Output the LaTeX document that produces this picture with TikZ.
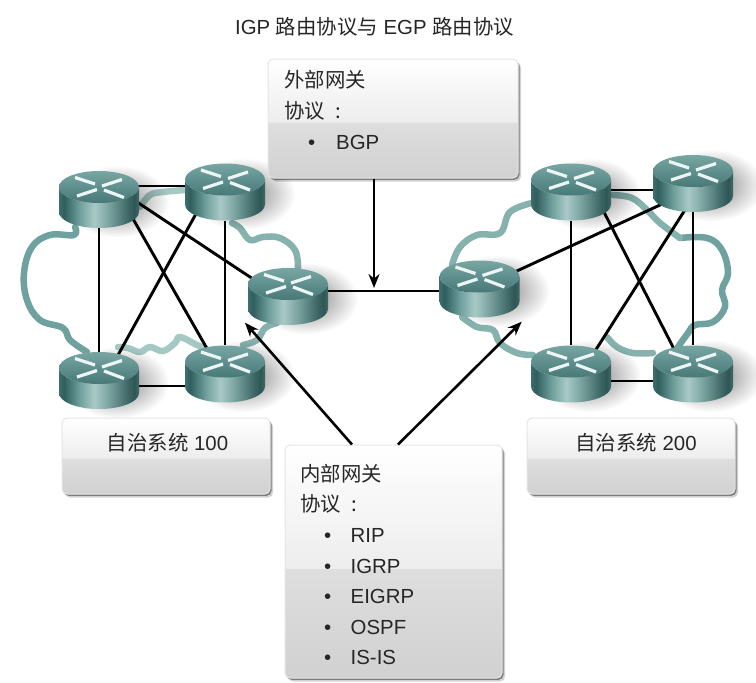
\documentclass[tikz,border=0pt]{standalone}
\usepackage{fontspec}
\setmainfont{Liberation Sans}
\newfontfamily\cjk{Noto Sans CJK SC}
\usetikzlibrary{arrows.meta,backgrounds,fadings,shadows}

\definecolor{cloudA}{HTML}{6FA29E}
\definecolor{cloudB}{HTML}{A4C8C4}
\definecolor{cloudC}{HTML}{86B2AE}
\definecolor{sideA}{HTML}{3F6F6D}
\definecolor{sideB}{HTML}{2F5E5C}
\definecolor{sideC}{HTML}{6FA09C}
\definecolor{sideD}{HTML}{A8C9C6}
\definecolor{sideE}{HTML}{8FB5B2}
\definecolor{sideF}{HTML}{3E6967}
\definecolor{sideG}{HTML}{2F5655}
\definecolor{faceA}{HTML}{78A6A3}
\definecolor{faceB}{HTML}{477977}

\pgfdeclareverticalshading{glass}{100bp}{color(0bp)=(white!82!black); color(25bp)=(white!82!black);
	color(48.5bp)=(white!87!black); color(48.6bp)=(white!93!black); color(75bp)=(white); color(100bp)=(white)}
\pgfdeclarehorizontalshading{routerside}{100bp}{color(0bp)=(sideA); color(25bp)=(sideA);
	color(28bp)=(sideB); color(38bp)=(sideC); color(47bp)=(sideD); color(52bp)=(sideE);
	color(68bp)=(sideF); color(72bp)=(sideG); color(75bp)=(sideF); color(100bp)=(sideF)}
\tikzfading[name=fuzzy,inner color=transparent!0,outer color=transparent!100]

\newcommand{\zh}[1]{{\cjk #1}}
\newcommand{\bul}[2]{\hspace*{24pt}\makebox[#1][l]{•}#2}

% one router: the named node plus its drawing
\newcommand{\router}[3]{
	\node[router node] (#1) at (#2,#3) {};
	\begin{scope}[shift={(#1.center)},y=1pt]
		\fill[black,opacity=.5,path fading=fuzzy] (18,-2) ellipse (52 and 36);
		\path[shading=routerside] (-40,12.5) -- (-40,-12.5) arc (180:360:40 and 16) -- (40,12.5) arc (0:-180:40 and 16) -- cycle;
		\path[top color=faceA,bottom color=faceB] (0,12.5) ellipse (40 and 16);
		\draw[x stroke] (-24,22) -- (-4,15.5);
		\draw[x stroke] (23,20) -- (3,13.5);
		\draw[x stroke] (-22,3.5) -- (-2,10);
		\draw[x stroke] (25,2) -- (5,9.5);
	\end{scope}
}

\tikzset{
	router node/.style={minimum width=80pt,minimum height=57pt,inner sep=0pt},
	x stroke/.style={white!92!teal,line width=3.2pt},
	link/.style={black,line width=2.9pt},
	pointer/.style={black,line width=2.6pt,-{Stealth[length=14pt,width=11pt]}},
	cloud line/.style={line width=6.5pt,line cap=round,line join=round},
	info box/.style={rounded corners=5pt,draw=white!90!black,line width=1pt,shading=glass,inner sep=0pt,
		general shadow={fill=black,opacity=.18,shadow xshift=3pt,shadow yshift=-3.5pt},
		general shadow={fill=black,opacity=.4,shadow xshift=1.5pt,shadow yshift=-1.8pt}},
	label text/.style={font=\fontsize{20.4}{24}\selectfont,text=black!85},
	list text/.style={label text,anchor=west,align=left,inner sep=0pt}
}

\begin{document}
\begin{tikzpicture}[x=1pt,y=-1pt]
	\useasboundingbox (0,0) rectangle (756,683);

	\node[label text] (title) at (374.5,27) {IGP \zh{路由协议与} EGP \zh{路由协议}};

	\router{tl}{99}{199.5}
	\router{tm}{225}{192}
	\router{cl}{288}{296.5}
	\router{bl}{99}{380.5}
	\router{bm}{225}{374}
	\router{cr}{479.5}{289}
	\router{rtl}{571}{192}
	\router{rtr}{693}{183.5}
	\router{rbl}{571}{374}
	\router{rbr}{693}{374}

	\begin{pgfonlayer}{background}
		% clouds
		\draw[cloud line,cloudA] plot[smooth,tension=.65] coordinates {(75,227) (74,235) (50,235) (32,247) (24,273) (27,300) (40,320) (63,328) (70,340) (87,352)};
		\draw[cloud line,cloudB] plot[smooth,tension=.65] coordinates {(118,347) (128,348) (140,352) (150,347) (163,351) (175,343) (180,337) (197,345) (205,348)};
		\draw[cloud line,cloudC] plot[smooth,tension=.65] coordinates {(243,345) (257,340) (265,328) (277,323)};
		\draw[cloud line,cloudC] plot[smooth,tension=.65] coordinates {(298,268) (295,250) (280,238) (263,237) (250,240) (240,228) (232,223)};
		\draw[cloud line,cloudB] plot[smooth,tension=.65] coordinates {(185,190) (163,192) (150,195) (140,207)};
		\draw[cloud line,cloudC] plot[smooth,tension=.65] coordinates {(532,203) (510,212) (500,233) (477,235) (460,247) (452,265)};
		\draw[cloud line,cloudC] plot[smooth,tension=.65] coordinates {(462,317) (477,327) (493,330) (500,343) (517,353) (533,355)};
		\draw[cloud line,cloudC] plot[smooth,tension=.65] coordinates {(607,337) (617,347) (633,353) (653,353)};
		\draw[cloud line,cloudA] plot[smooth,tension=.65] coordinates {(678,347) (688,333) (695,325) (713,322) (725,307) (722,290) (728,273) (722,250) (707,238) (680,238)};
		\draw[cloud line,cloudC] plot[smooth,tension=.65] coordinates {(680,238) (660,223) (647,210) (632,198) (613,195)};

		% links
		\draw[link] ([yshift=13.5pt]tl.center) -- ([yshift=6pt]tm.center);
		\draw[link] (tl) -- (bl);
		\draw[link] (tm) -- (bm);
		\draw[link] ([yshift=-5.5pt]bl.center) -- ([yshift=-12pt]bm.center);
		\draw[link] ([xshift=23pt]tl.center) -- ([xshift=-3.5pt]bm.center);
		\draw[link] ([xshift=-17pt]tm.center) -- ([xshift=5pt]bl.center);
		\draw[link] ([yshift=22.7pt]tl.center) -- ([yshift=-5.7pt]cl.center);
		\draw[link] ([yshift=5.5pt]cl.center) -- ([yshift=-2pt]cr.center);
		\draw[link] ([yshift=2pt]rtl.center) -- ([yshift=-6.5pt]rtr.center);
		\draw[link] (rtl) -- (rbl);
		\draw[link] (rtr) -- (rbr);
		\draw[link] ([yshift=-7pt]rbl.center) -- ([yshift=-7pt]rbr.center);
		\draw[link] ([xshift=22.7pt]rtl.center) -- ([xshift=-6.2pt]rbr.center);
		\draw[link] ([xshift=8.8pt]rtr.center) -- ([xshift=9.4pt]rbl.center);
		\draw[link] ([yshift=.8pt]cr.center) -- ([yshift=-6.3pt]rtr.center);
	\end{pgfonlayer}

	% boxes
	\node[info box,minimum width=250pt,minimum height=119pt] (egp) at (393,118.5) {};
	\node[info box,minimum width=217pt,minimum height=233pt] (igp) at (393.5,561.5) {};
	\node[info box,minimum width=208pt,minimum height=76pt] (as one) at (166,456) {};
	\node[info box,minimum width=208pt,minimum height=76pt] (as two) at (631,456) {};

	\node[list text,font=\fontsize{20.4}{31}\selectfont] (egp list) at (284,109.5) {\zh{外部网关}\\\zh{协议\hspace{6pt} :}\\\bul{28pt}{BGP}};
	\node[list text,font=\fontsize{20.4}{30.6}\selectfont] (igp list) at (300,564.5) {\zh{内部网关}\\\zh{协议\hspace{6pt} :}\\\bul{26.5pt}{RIP}\\\bul{26.5pt}{IGRP}\\\bul{26.5pt}{EIGRP}\\\bul{26.5pt}{OSPF}\\\bul{26.5pt}{IS-IS}};
	\node[label text] (as one label) at (167.5,443) {\zh{自治系统} 100};
	\node[label text] (as two label) at (636,443) {\zh{自治系统} 200};

	% arrows
	\coordinate (egp tip) at (374,288);
	\coordinate (left tip) at (245,322.7);
	\coordinate (right tip) at (521.7,321.7);
	\draw[pointer] ([xshift=-19pt]egp.south) -- (egp tip);
	\draw[pointer] ([xshift=-41.5pt]igp.north) -- (left tip);
	\draw[pointer] ([xshift=4.5pt]igp.north) -- (right tip);
\end{tikzpicture}
\end{document}
